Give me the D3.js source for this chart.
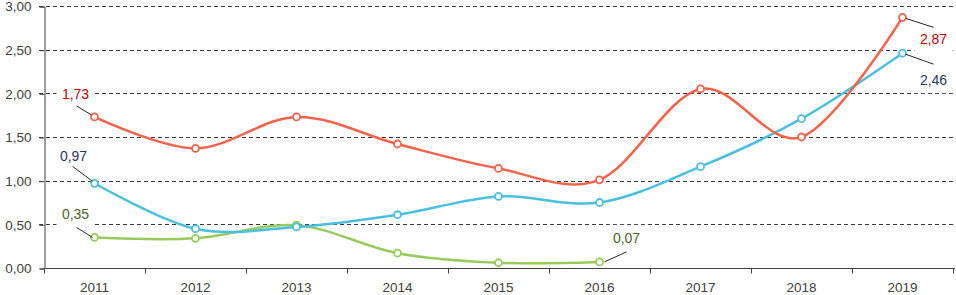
<!DOCTYPE html>
<html>
<head>
<meta charset="utf-8">
<script src="https://cdn.jsdelivr.net/npm/d3@7"></script>
<style>
  body { margin: 0; background: #fff; }
  text { font-family: "Liberation Sans", Arial, sans-serif; }
</style>
</head>
<body>
<div id="chart"></div>
<script>
// chart data
const years = ["2011", "2012", "2013", "2014", "2015", "2016", "2017", "2018", "2019"];
const redValues = [1.73, 1.37, 1.73, 1.42, 1.14, 1.01, 2.05, 1.50, 2.87];
const blueValues = [0.97, 0.45, 0.47, 0.61, 0.82, 0.75, 1.16, 1.71, 2.46];
const greenValues = [0.35, 0.34, 0.49, 0.17, 0.06, 0.07, null, null, null];
const yTicks = [0, 0.5, 1, 1.5, 2, 2.5, 3];

const width = 956, height = 295;
const margin = {top: 6, right: 2, bottom: 27, left: 44};

const fmt = v => v.toFixed(2).replace(".", ",");

const svg = d3.select("#chart").append("svg")
  .attr("width", width)
  .attr("height", height);

const x = d3.scaleBand()
  .domain(years)
  .range([margin.left, width - margin.right - 1]);

const y = d3.scaleLinear()
  .domain([0, 3])
  .range([height - margin.bottom, margin.top]);

const cx = d => x(d) + x.bandwidth() / 2;

// dashed gridlines
svg.append("g")
  .selectAll("line")
  .data(yTicks.filter(d => d > 0))
  .join("line")
  .attr("x1", margin.left - 5)
  .attr("x2", width - 1)
  .attr("y1", d => Math.round(y(d)) + 0.5)
  .attr("y2", d => Math.round(y(d)) + 0.5)
  .attr("stroke", "#3a3a3a")
  .attr("stroke-width", 1)
  .attr("stroke-dasharray", "4,3");

// y axis
const yAxis = svg.append("g")
  .attr("transform", `translate(${margin.left + 0.5},0.5)`)
  .call(d3.axisLeft(y).tickValues(yTicks).tickFormat(fmt).tickSize(5).tickPadding(8));
yAxis.select(".domain").attr("stroke", "#404040");
yAxis.selectAll(".tick line").attr("stroke", "#404040");
yAxis.selectAll(".tick text").attr("fill", "#404040").style("font-size", "13.5px");

// x axis with ticks at band boundaries
const xAxisY = Math.round(y(0)) + 0.5;
svg.append("line")
  .attr("x1", margin.left).attr("x2", width - 1)
  .attr("y1", xAxisY).attr("y2", xAxisY)
  .attr("stroke", "#404040");
svg.append("g")
  .selectAll("line")
  .data(years.concat(["end"]))
  .join("line")
  .attr("x1", (d, i) => Math.round(margin.left + i * x.bandwidth()) + 0.5)
  .attr("x2", (d, i) => Math.round(margin.left + i * x.bandwidth()) + 0.5)
  .attr("y1", xAxisY)
  .attr("y2", xAxisY + 5)
  .attr("stroke", "#404040");
svg.append("g")
  .selectAll("text")
  .data(years)
  .join("text")
  .attr("x", d => cx(d))
  .attr("y", height - 3)
  .attr("text-anchor", "middle")
  .attr("fill", "#404040")
  .style("font-size", "13.5px")
  .text(d => d);

// series
const series = [
  {name: "green", values: greenValues, color: "#98cb5c", labelColor: "#4f6228"},
  {name: "blue", values: blueValues, color: "#4bbfdf", labelColor: "#1f3864"},
  {name: "red", values: redValues, color: "#f2634b", labelColor: "#c00000"}
];

const line = d3.line()
  .defined(d => d.v != null)
  .x(d => cx(d.year))
  .y(d => y(d.v))
  .curve(d3.curveCardinal.tension(0));

series.forEach(s => {
  const pts = years.map((yr, i) => ({year: yr, v: s.values[i]})).filter(d => d.v != null);
  svg.append("path")
    .datum(pts)
    .attr("d", line)
    .attr("fill", "none")
    .attr("stroke", s.color)
    .attr("stroke-width", 2.5);
  svg.append("g")
    .selectAll("circle")
    .data(pts)
    .join("circle")
    .attr("cx", d => cx(d.year))
    .attr("cy", d => y(d.v))
    .attr("r", 3.5)
    .attr("fill", "#fff")
    .attr("stroke", s.color)
    .attr("stroke-width", 1.8);
});

// data labels with leader lines (offsets relative to the point)
const labels = [
  {s: 2, i: 0, dx: -19, dy: -23, l1: [-18, -11], l2: [-3, -2]},
  {s: 1, i: 0, dx: -21, dy: -27, l1: [-22, -17], l2: [-2, -2]},
  {s: 0, i: 0, dx: -19, dy: -23, l1: [-18, -10], l2: [-2, 0]},
  {s: 0, i: 5, dx: 27, dy: -24, l1: [27, -10], l2: [5, 0]},
  {s: 2, i: 8, dx: 31, dy: 22, l1: [31, 10], l2: [3, 1]},
  {s: 1, i: 8, dx: 31, dy: 27, l1: [31, 11], l2: [3, 1]}
];

labels.forEach(lb => {
  const s = series[lb.s];
  const px = cx(years[lb.i]);
  const py = y(s.values[lb.i]);
  svg.append("rect")
    .attr("x", px + lb.dx - 19)
    .attr("y", py + lb.dy - 13)
    .attr("width", 38)
    .attr("height", 26)
    .attr("fill", "#fff");
  svg.append("line")
    .attr("x1", px + lb.l1[0]).attr("y1", py + lb.l1[1])
    .attr("x2", px + lb.l2[0]).attr("y2", py + lb.l2[1])
    .attr("stroke", "#262626")
    .attr("stroke-width", 1);
  svg.append("text")
    .attr("x", px + lb.dx)
    .attr("y", py + lb.dy)
    .attr("dy", "0.35em")
    .attr("text-anchor", "middle")
    .attr("fill", s.labelColor)
    .style("font-size", "14px")
    .text(fmt(s.values[lb.i]));
});
</script>
</body>
</html>
